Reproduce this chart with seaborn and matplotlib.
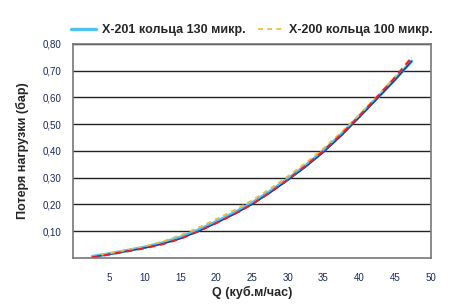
import pandas as pd
import numpy as np
import matplotlib.pyplot as plt
import seaborn as sns

# Q values (m3/h) and pressure loss (bar)
q = [2.7, 5, 7.5, 10, 12.5, 15, 17.5, 20, 22.5, 25, 27.5, 30, 32.5, 35, 37.5, 40, 42.5, 45, 47.3]
x201_light = [0.005, 0.015, 0.027, 0.040, 0.056, 0.077, 0.104, 0.135, 0.168, 0.205, 0.248,
              0.295, 0.345, 0.400, 0.462, 0.530, 0.598, 0.668, 0.735]
x201_dark = [0.003, 0.013, 0.025, 0.037, 0.052, 0.072, 0.099, 0.130, 0.163, 0.200, 0.243,
             0.290, 0.340, 0.395, 0.457, 0.525, 0.595, 0.665, 0.735]
x200_orange = [0.005, 0.016, 0.029, 0.043, 0.061, 0.085, 0.113, 0.145, 0.178, 0.215, 0.258,
               0.305, 0.355, 0.410, 0.470, 0.535, 0.605, 0.678, 0.750]
x200_red = [0.003, 0.012, 0.024, 0.036, 0.051, 0.071, 0.099, 0.130, 0.163, 0.200, 0.244,
            0.292, 0.344, 0.400, 0.462, 0.530, 0.602, 0.675, 0.748]

xticks = [5, 10, 15, 20, 25, 30, 35, 40, 45, 50]
yticks = [0.1, 0.2, 0.3, 0.4, 0.5, 0.6, 0.7, 0.8]

sns.set_style("white")
plt.rcParams['font.family'] = ['Liberation Sans', 'DejaVu Sans']

fig = plt.figure(figsize=(4.54, 3.07), dpi=100)
ax = fig.add_axes([0.161, 0.160, 0.788, 0.697])

sns.lineplot(x=q, y=x201_light, ax=ax, color='#4fc3f0', lw=2.4, label='X-201 кольца 130 микр.')
sns.lineplot(x=q, y=x201_dark, ax=ax, color='#1f3f9a', lw=1.1)
sns.lineplot(x=q, y=x200_orange, ax=ax, color='#f5b830', lw=1.2, ls=(0, (3, 2.5)),
             label='X-200 кольца 100 микр.')
sns.lineplot(x=q, y=x200_red, ax=ax, color='#e8202a', lw=1.5, ls=(0, (3, 2.5)))

ax.set_xlim(0, 50)
ax.set_ylim(0, 0.8)
ax.set_xticks(xticks)
ax.set_yticks(yticks)
ax.set_yticklabels([f"{v:.2f}".replace('.', ',') for v in yticks])
ax.grid(axis='y', color='#222222', lw=1.0)
ax.set_axisbelow(True)
for s in ax.spines.values():
    s.set_color('#777777')
    s.set_linewidth(1.2)
ax.tick_params(axis='both', which='both', length=5, width=1.0, color='#555555',
               labelsize=7, labelcolor='#1a2a5a', direction='out')
ax.tick_params(axis='x', pad=6)

ax.set_xlabel('Q (куб.м/час)', fontsize=9, fontweight='bold', labelpad=2)
ax.set_ylabel('Потеря нагрузки (бар)', fontsize=9, fontweight='bold', labelpad=10)

leg = ax.legend(loc='lower center', bbox_to_anchor=(0.5, 1.0), ncol=2, frameon=False,
                handlelength=2.0, handletextpad=0.5, columnspacing=1.0, borderaxespad=0.2,
                prop={'weight': 'bold', 'size': 9})

plt.savefig('out.png', dpi=100)
